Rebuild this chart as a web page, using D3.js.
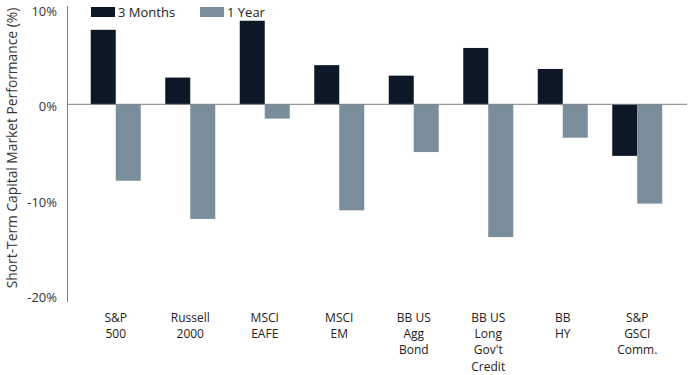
<!DOCTYPE html>
<html>
<head>
<meta charset="utf-8">
<script src="https://cdn.jsdelivr.net/npm/d3@7"></script>
<style>
  body { margin: 0; background: #fff; }
  text { font-family: "Open Sans", sans-serif; }
</style>
</head>
<body>
<div id="container"></div>
<script>
var categories = ['S&P|500', 'Russell|2000', 'MSCI|EAFE', 'MSCI|EM', 'BB US|Agg|Bond', 'BB US|Long|Gov\'t|Credit', 'BB|HY', 'S&P|GSCI|Comm.'];
var threeMonths = [7.8, 2.8, 8.75, 4.1, 3.0, 5.9, 3.7, -5.4];
var oneYear = [-8.0, -12.0, -1.5, -11.1, -5.0, -13.9, -3.5, -10.4];
var seriesNames = ['3 Months', '1 Year'];
var tickValues = [10, 0, -10, -20];

var width = 690,
    height = 375;
var colors = ['#0d1826', '#7a8d9b'];

var svg = d3.select('#container')
    .append('svg')
    .attr('width', width)
    .attr('height', height);

var x = d3.scaleBand()
    .domain(categories)
    .range([78.5, 674.5]);
var x1 = d3.scaleBand()
    .domain([0, 1])
    .range([x.bandwidth() / 2 - 25, x.bandwidth() / 2 + 25]);
var y = d3.scaleLinear()
    .domain([-20, 10])
    .range([295.3, 8.8]);

var rows = categories.map(function(c, i) {
    return { cat: c, values: [threeMonths[i], oneYear[i]] };
});

// bars
var groups = svg.selectAll('g.group')
    .data(rows)
    .enter()
    .append('g')
    .attr('class', 'group')
    .attr('transform', function(d) { return 'translate(' + x(d.cat) + ',0)'; });
groups.selectAll('rect')
    .data(function(d) { return d.values; })
    .enter()
    .append('rect')
    .attr('x', function(d, i) { return x1(i); })
    .attr('width', x1.bandwidth())
    .attr('y', function(d) { return y(Math.max(0, d)); })
    .attr('height', function(d) { return Math.abs(y(d) - y(0)); })
    .style('fill', function(d, i) { return colors[i]; });

// zero line and y axis line
svg.append('line')
    .attr('x1', 67).attr('x2', 687)
    .attr('y1', y(0)).attr('y2', y(0))
    .style('stroke', '#7f7f7f').style('stroke-width', 1);
svg.append('line')
    .attr('x1', 67.5).attr('x2', 67.5)
    .attr('y1', 6).attr('y2', 302)
    .style('stroke', '#7f7f7f').style('stroke-width', 1);

// y tick labels
svg.selectAll('text.tick')
    .data(tickValues)
    .enter()
    .append('text')
    .attr('class', 'tick')
    .attr('x', 57)
    .attr('y', function(d) { return y(d) + 7; })
    .attr('text-anchor', 'end')
    .style('font-size', '13px')
    .style('fill', '#333')
    .text(function(d) { return d + '%'; });

// y title
svg.append('text')
    .attr('transform', 'translate(17,148) rotate(-90)')
    .attr('text-anchor', 'middle')
    .style('font-size', '13.8px')
    .style('fill', '#333')
    .text('Short-Term Capital Market Performance (%)');

// x labels, one text per line
var lines = [];
categories.forEach(function(c) {
    c.split('|').forEach(function(t, i) {
        lines.push({ cat: c, t: t, i: i });
    });
});
svg.selectAll('text.xlab')
    .data(lines)
    .enter()
    .append('text')
    .attr('class', 'xlab')
    .attr('text-anchor', 'middle')
    .attr('x', function(d) { return x(d.cat) + x.bandwidth() / 2; })
    .attr('y', function(d) { return 322 + d.i * 16.2; })
    .style('font-size', '12px')
    .style('fill', '#222')
    .text(function(d) { return d.t; });

// legend
var legend = svg.selectAll('g.legend')
    .data(seriesNames)
    .enter()
    .append('g')
    .attr('class', 'legend')
    .attr('transform', function(d, i) { return 'translate(' + (91 + i * 109) + ',7)'; });
legend.append('rect')
    .attr('width', 24)
    .attr('height', 10)
    .style('fill', function(d, i) { return colors[i]; });
legend.append('text')
    .attr('x', 27)
    .attr('y', 10)
    .style('font-size', '13px')
    .style('fill', '#222')
    .text(function(d) { return d; });
</script>
</body>
</html>
